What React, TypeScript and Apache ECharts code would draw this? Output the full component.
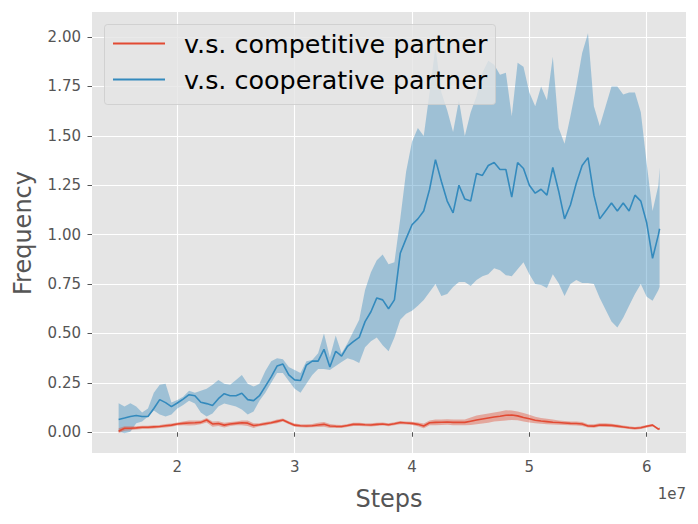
import React, { useEffect, useRef } from "react";
import * as echarts from "echarts";

// x in units of 1e7 steps
const steps = [
  1.50, 1.55, 1.60, 1.65, 1.70, 1.75, 1.80, 1.85, 1.90, 1.95,
  2.00, 2.05, 2.10, 2.15, 2.20, 2.25, 2.30, 2.35, 2.40, 2.45,
  2.50, 2.55, 2.60, 2.65, 2.70, 2.75, 2.80, 2.85, 2.90, 2.95,
  3.00, 3.05, 3.10, 3.15, 3.20, 3.25, 3.30, 3.35, 3.40, 3.45,
  3.50, 3.55, 3.60, 3.65, 3.70, 3.75, 3.80, 3.85, 3.90, 3.95,
  4.00, 4.05, 4.10, 4.15, 4.20, 4.25, 4.30, 4.35, 4.40, 4.45,
  4.50, 4.55, 4.60, 4.65, 4.70, 4.75, 4.80, 4.85, 4.90, 4.95,
  5.00, 5.05, 5.10, 5.15, 5.20, 5.25, 5.30, 5.35, 5.40, 5.45,
  5.50, 5.55, 5.60, 5.65, 5.70, 5.75, 5.80, 5.85, 5.90, 5.95,
  6.00, 6.05, 6.10, 6.11,
];

const coopMean = [
  0.065, 0.072, 0.08, 0.085, 0.08, 0.08, 0.12, 0.165, 0.15, 0.13,
  0.148, 0.168, 0.19, 0.185, 0.152, 0.145, 0.135, 0.17, 0.195, 0.185,
  0.185, 0.197, 0.165, 0.16, 0.185, 0.232, 0.28, 0.335, 0.345, 0.29,
  0.265, 0.262, 0.34, 0.36, 0.36, 0.42, 0.33, 0.41, 0.385, 0.435,
  0.459, 0.48, 0.56, 0.61, 0.68, 0.67, 0.625, 0.67, 0.906, 0.98,
  1.05, 1.08, 1.12, 1.23, 1.38, 1.27, 1.17, 1.11, 1.25, 1.18,
  1.17, 1.31, 1.30, 1.35, 1.365, 1.33, 1.33, 1.19, 1.365, 1.335,
  1.25, 1.21, 1.23, 1.20, 1.34, 1.22, 1.08, 1.15, 1.26, 1.35,
  1.39, 1.20, 1.08, 1.12, 1.16, 1.12, 1.16, 1.12, 1.2, 1.17,
  1.06, 0.88, 1.00, 1.03,
];
const coopHigh = [
  0.147, 0.13, 0.147, 0.13, 0.10, 0.12, 0.20, 0.24, 0.245, 0.15,
  0.163, 0.18, 0.21, 0.20, 0.21, 0.22, 0.24, 0.265, 0.245, 0.24,
  0.265, 0.29, 0.245, 0.231, 0.245, 0.31, 0.36, 0.375, 0.37, 0.33,
  0.315, 0.30, 0.36, 0.366, 0.40, 0.50, 0.38, 0.49, 0.40, 0.45,
  0.51, 0.57, 0.72, 0.81, 0.87, 0.90, 0.85, 0.86, 1.08, 1.32,
  1.47, 1.54, 1.50, 1.72, 1.95, 1.72, 1.63, 1.52, 1.68, 1.50,
  1.62, 1.70, 1.82, 1.88, 1.86, 1.81, 1.82, 1.60, 1.87, 1.85,
  1.72, 1.65, 1.75, 1.68, 1.90, 1.54, 1.46, 1.60, 1.75, 1.92,
  2.02, 1.65, 1.55, 1.65, 1.75, 1.75, 1.71, 1.72, 1.72, 1.62,
  1.36, 1.12, 1.25, 1.34,
];
const coopLow = [
  0.003, -0.005, 0.003, 0.045, 0.054, 0.08, 0.11, 0.09, 0.08, 0.09,
  0.12, 0.138, 0.16, 0.145, 0.10, 0.08, 0.095, 0.13, 0.145, 0.138,
  0.13, 0.115, 0.09, 0.105, 0.16, 0.20, 0.25, 0.30, 0.30, 0.26,
  0.22, 0.20, 0.245, 0.29, 0.32, 0.32, 0.315, 0.335, 0.355, 0.374,
  0.366, 0.35, 0.43, 0.46, 0.48, 0.44, 0.41, 0.48, 0.57, 0.60,
  0.615, 0.64, 0.67, 0.71, 0.75, 0.69, 0.70, 0.735, 0.76, 0.76,
  0.74, 0.77, 0.79, 0.80, 0.83, 0.82, 0.795, 0.79, 0.825, 0.86,
  0.80, 0.75, 0.745, 0.73, 0.80, 0.754, 0.69, 0.75, 0.77, 0.755,
  0.755, 0.75, 0.68, 0.62, 0.56, 0.53, 0.58, 0.64, 0.70, 0.75,
  0.686, 0.665, 0.72, 0.737,
];

const compMean = [
  0.005, 0.02, 0.02, 0.022, 0.025, 0.025, 0.027, 0.029, 0.033, 0.036,
  0.042, 0.045, 0.047, 0.048, 0.05, 0.062, 0.042, 0.044, 0.036, 0.042,
  0.045, 0.048, 0.046, 0.034, 0.038, 0.043, 0.048, 0.055, 0.062, 0.048,
  0.036, 0.033, 0.032, 0.033, 0.037, 0.04, 0.032, 0.03, 0.029, 0.034,
  0.04, 0.04, 0.038, 0.037, 0.04, 0.042, 0.038, 0.043, 0.049, 0.047,
  0.045, 0.04, 0.032, 0.048, 0.05, 0.051, 0.052, 0.05, 0.05, 0.05,
  0.056, 0.062, 0.067, 0.072, 0.077, 0.081, 0.086, 0.087, 0.083, 0.075,
  0.068, 0.061, 0.057, 0.054, 0.051, 0.049, 0.047, 0.045, 0.044, 0.042,
  0.032, 0.031, 0.037, 0.036, 0.035, 0.031, 0.027, 0.023, 0.02, 0.023,
  0.03, 0.036, 0.016, 0.019,
];
const compHigh = [
  0.02, 0.03, 0.03, 0.03, 0.033, 0.033, 0.035, 0.037, 0.042, 0.044,
  0.05, 0.055, 0.06, 0.06, 0.06, 0.072, 0.055, 0.056, 0.048, 0.052,
  0.055, 0.06, 0.06, 0.046, 0.046, 0.052, 0.056, 0.064, 0.07, 0.056,
  0.044, 0.041, 0.04, 0.042, 0.048, 0.052, 0.042, 0.038, 0.037, 0.042,
  0.048, 0.048, 0.046, 0.045, 0.048, 0.05, 0.046, 0.051, 0.057, 0.055,
  0.053, 0.05, 0.044, 0.06, 0.064, 0.065, 0.066, 0.064, 0.064, 0.065,
  0.075, 0.085, 0.09, 0.095, 0.1, 0.105, 0.112, 0.11, 0.105, 0.097,
  0.088, 0.078, 0.072, 0.068, 0.064, 0.06, 0.057, 0.055, 0.054, 0.052,
  0.04, 0.04, 0.046, 0.045, 0.043, 0.039, 0.034, 0.03, 0.027, 0.03,
  0.037, 0.042, 0.022, 0.025,
];
const compLow = [
  -0.005, 0.008, 0.01, 0.014, 0.017, 0.017, 0.019, 0.021, 0.024, 0.028,
  0.034, 0.035, 0.034, 0.036, 0.04, 0.05, 0.028, 0.032, 0.024, 0.032,
  0.035, 0.036, 0.032, 0.022, 0.03, 0.034, 0.04, 0.046, 0.054, 0.04,
  0.028, 0.025, 0.024, 0.025, 0.026, 0.028, 0.022, 0.022, 0.021, 0.026,
  0.032, 0.032, 0.03, 0.029, 0.032, 0.034, 0.03, 0.035, 0.041, 0.039,
  0.037, 0.03, 0.02, 0.036, 0.036, 0.037, 0.038, 0.036, 0.036, 0.035,
  0.037, 0.04, 0.044, 0.048, 0.054, 0.057, 0.06, 0.062, 0.061, 0.055,
  0.05, 0.046, 0.043, 0.041, 0.039, 0.038, 0.037, 0.035, 0.034, 0.032,
  0.024, 0.023, 0.028, 0.027, 0.027, 0.023, 0.02, 0.016, 0.013, 0.016,
  0.023, 0.03, 0.01, 0.013,
];

const xTicks = [2, 3, 4, 5, 6];
const yTicks = [0, 0.25, 0.5, 0.75, 1.0, 1.25, 1.5, 1.75, 2.0];
const seriesNames = ["v.s. competitive partner", "v.s. cooperative partner"];

const RED = "#E24A33";
const BLUE = "#348ABD";
const FONT = "DejaVu Sans";

function band(name: string, low: number[], high: number[], fill: string) {
  return {
    type: "custom",
    name,
    silent: true,
    data: [[steps[0], low[0]]],
    renderItem: (params: any, api: any) => {
      if (params.dataIndex !== 0) return null;
      const pts: number[][] = [];
      for (let i = 0; i < steps.length; i++) pts.push(api.coord([steps[i], high[i]]));
      for (let i = steps.length - 1; i >= 0; i--) pts.push(api.coord([steps[i], low[i]]));
      return {
        type: "polygon",
        shape: { points: pts },
        style: { fill, stroke: "none" },
      };
    },
    z: 1,
  };
}

export default function App() {
  const ref = useRef<HTMLDivElement>(null);
  useEffect(() => {
    if (!ref.current) return;
    const chart = echarts.init(ref.current, undefined, { renderer: "svg" });
    const tickLabel = { color: "#555555", fontSize: 15, fontFamily: FONT };
    const LZ = 100;
    chart.setOption({
      animation: false,
      backgroundColor: "#ffffff",
      grid: {
        left: 92,
        right: 12,
        top: 12,
        bottom: 71,
        show: true,
        backgroundColor: "#E5E5E5",
        borderWidth: 0,
      },
      xAxis: {
        type: "value",
        min: 1.273,
        max: 6.335,
        axisLine: { show: false },
        axisTick: {
          show: true,
          customValues: xTicks,
          length: 4.5,
          lineStyle: { color: "#555555", width: 1 },
        },
        axisLabel: {
          ...tickLabel,
          customValues: xTicks,
          margin: 6,
          formatter: (v: number) => String(v),
        },
        splitLine: { show: true, lineStyle: { color: "#ffffff", width: 1.1 } },
      },
      yAxis: {
        type: "value",
        min: -0.105,
        max: 2.127,
        axisLine: { show: false },
        axisTick: {
          show: true,
          customValues: yTicks,
          length: 4.5,
          lineStyle: { color: "#555555", width: 1 },
        },
        axisLabel: {
          ...tickLabel,
          customValues: yTicks,
          margin: 11,
          formatter: (v: number) => v.toFixed(2),
        },
        splitLine: { show: true, lineStyle: { color: "#ffffff", width: 1.1 } },
      },
      series: [
        band(seriesNames[1] + " band", coopLow, coopHigh, "rgba(52,138,189,0.4)"),
        band(seriesNames[0] + " band", compLow, compHigh, "rgba(226,74,51,0.4)"),
        {
          type: "line",
          name: seriesNames[1],
          data: steps.map((x, i) => [x, coopMean[i]]),
          showSymbol: false,
          lineStyle: { color: BLUE, width: 1.6 },
          itemStyle: { color: BLUE },
          z: 3,
        },
        {
          type: "line",
          name: seriesNames[0],
          data: steps.map((x, i) => [x, compMean[i]]),
          showSymbol: false,
          lineStyle: { color: RED, width: 1.6 },
          itemStyle: { color: RED },
          z: 3,
        },
      ],
      graphic: [
        {
          type: "text",
          x: 389,
          y: 499,
          style: {
            text: "Steps",
            fill: "#555555",
            font: `24px "${FONT}"`,
            align: "center",
            verticalAlign: "middle",
          },
        },
        {
          type: "text",
          x: 23,
          y: 233,
          rotation: Math.PI / 2,
          style: {
            text: "Frequency",
            fill: "#555555",
            font: `24px "${FONT}"`,
            align: "center",
            verticalAlign: "middle",
          },
        },
        {
          type: "text",
          x: 686,
          y: 494,
          style: {
            text: "1e7",
            fill: "#555555",
            font: `15px "${FONT}"`,
            align: "right",
            verticalAlign: "middle",
          },
        },
        {
          type: "rect",
          z: LZ,
          shape: { x: 104.5, y: 24.5, width: 391, height: 80, r: 3 },
          style: { fill: "rgba(229,229,229,0.8)", stroke: "rgba(204,204,204,0.8)", lineWidth: 1 },
        },
        {
          type: "line",
          z: LZ + 1,
          shape: { x1: 113, y1: 43.5, x2: 165, y2: 43.5 },
          style: { stroke: RED, lineWidth: 1.8 },
        },
        {
          type: "line",
          z: LZ + 1,
          shape: { x1: 113, y1: 79.5, x2: 165, y2: 79.5 },
          style: { stroke: BLUE, lineWidth: 1.8 },
        },
        {
          type: "text",
          z: LZ + 1,
          x: 184,
          y: 44,
          style: {
            text: seriesNames[0],
            fill: "#000000",
            font: `25.4px "${FONT}"`,
            verticalAlign: "middle",
          },
        },
        {
          type: "text",
          z: LZ + 1,
          x: 184,
          y: 80,
          style: {
            text: seriesNames[1],
            fill: "#000000",
            font: `25.4px "${FONT}"`,
            verticalAlign: "middle",
          },
        },
      ],
    });
    return () => chart.dispose();
  }, []);
  return (
    <div
      ref={ref}
      style={{ position: "fixed", left: 0, top: 0, width: 698, height: 524, background: "#fff" }}
    />
  );
}
